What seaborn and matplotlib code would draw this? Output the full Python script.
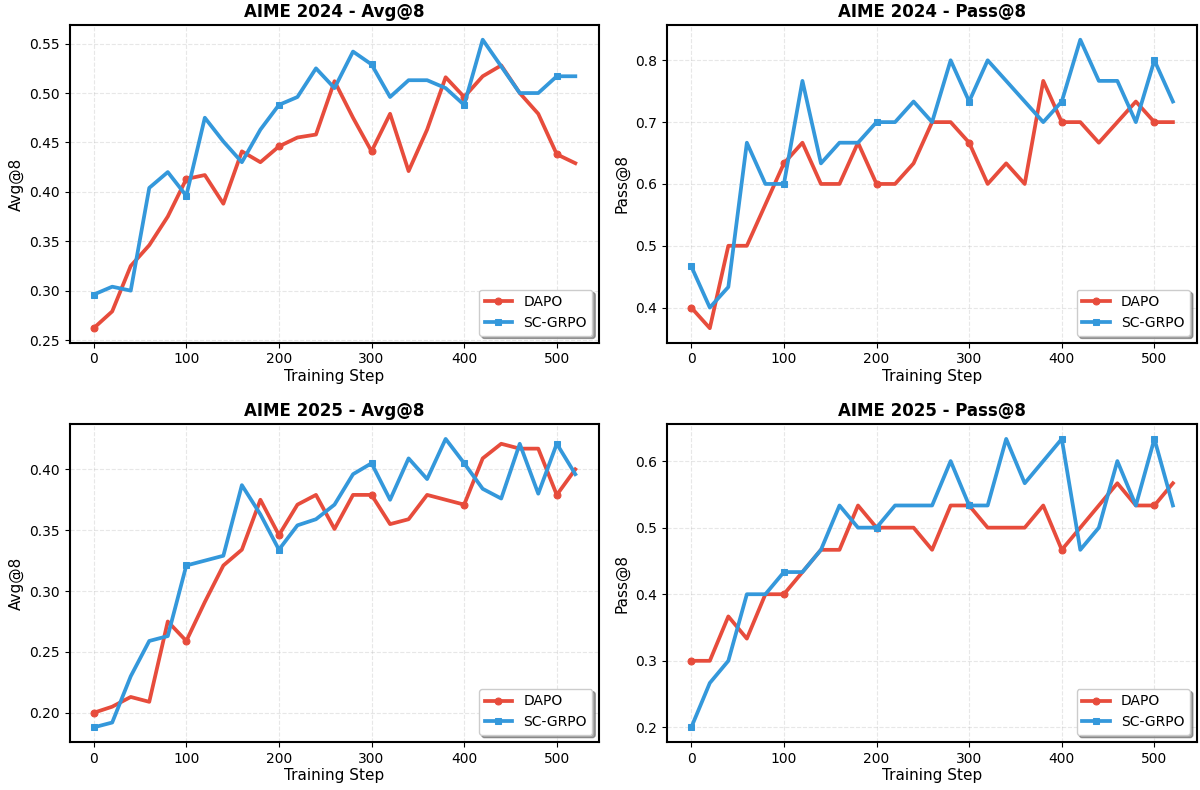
import numpy as np
import matplotlib
matplotlib.use('Agg')
import matplotlib.pyplot as plt
import seaborn as sns

steps = list(range(0, 521, 20))

# AIME 2024 Avg@8
dapo_24_avg = [0.262, 0.279, 0.325, 0.346, 0.375, 0.413, 0.417, 0.388, 0.441, 0.430,
               0.446, 0.455, 0.458, 0.512, 0.475, 0.441, 0.479, 0.421, 0.463, 0.516,
               0.496, 0.517, 0.528, 0.500, 0.479, 0.438, 0.429]
scgrpo_24_avg = [0.296, 0.304, 0.300, 0.404, 0.420, 0.396, 0.475, 0.451, 0.430, 0.463,
                 0.488, 0.496, 0.525, 0.505, 0.542, 0.529, 0.496, 0.513, 0.513, 0.505,
                 0.488, 0.554, 0.527, 0.500, 0.500, 0.517, 0.517]

# AIME 2024 Pass@8
dapo_24_pass = [0.4, 0.3667, 0.5, 0.5, 0.5667, 0.6333, 0.6667, 0.6, 0.6, 0.6667,
                0.6, 0.6, 0.6333, 0.7, 0.7, 0.6667, 0.6, 0.6333, 0.6, 0.7667,
                0.7, 0.7, 0.6667, 0.7, 0.7333, 0.7, 0.7]
scgrpo_24_pass = [0.4667, 0.4, 0.4333, 0.6667, 0.6, 0.6, 0.7667, 0.6333, 0.6667, 0.6667,
                  0.7, 0.7, 0.7333, 0.7, 0.8, 0.7333, 0.8, 0.7667, 0.7333, 0.7,
                  0.7333, 0.8333, 0.7667, 0.7667, 0.7, 0.8, 0.7333]

# AIME 2025 Avg@8
dapo_25_avg = [0.200, 0.205, 0.213, 0.209, 0.275, 0.259, 0.291, 0.321, 0.334, 0.375,
               0.346, 0.371, 0.379, 0.351, 0.379, 0.379, 0.355, 0.359, 0.379, 0.375,
               0.371, 0.409, 0.421, 0.417, 0.417, 0.379, 0.400]
scgrpo_25_avg = [0.188, 0.192, 0.230, 0.259, 0.263, 0.321, 0.325, 0.329, 0.387, 0.363,
                 0.334, 0.354, 0.359, 0.371, 0.396, 0.405, 0.375, 0.409, 0.392, 0.425,
                 0.405, 0.384, 0.376, 0.421, 0.380, 0.421, 0.396]

# AIME 2025 Pass@8
dapo_25_pass = [0.3, 0.3, 0.3667, 0.3333, 0.4, 0.4, 0.4333, 0.4667, 0.4667, 0.5333,
                0.5, 0.5, 0.5, 0.4667, 0.5333, 0.5333, 0.5, 0.5, 0.5, 0.5333,
                0.4667, 0.5, 0.5333, 0.5667, 0.5333, 0.5333, 0.5667]
scgrpo_25_pass = [0.2, 0.2667, 0.3, 0.4, 0.4, 0.4333, 0.4333, 0.4667, 0.5333, 0.5,
                  0.5, 0.5333, 0.5333, 0.5333, 0.6, 0.5333, 0.5333, 0.6333, 0.5667, 0.6,
                  0.6333, 0.4667, 0.5, 0.6, 0.5333, 0.6333, 0.5333]

panels = [
    ('AIME 2024 - Avg@8', 'Avg@8', dapo_24_avg, scgrpo_24_avg),
    ('AIME 2024 - Pass@8', 'Pass@8', dapo_24_pass, scgrpo_24_pass),
    ('AIME 2025 - Avg@8', 'Avg@8', dapo_25_avg, scgrpo_25_avg),
    ('AIME 2025 - Pass@8', 'Pass@8', dapo_25_pass, scgrpo_25_pass),
]

red = '#e74c3c'
blue = '#3498db'

plt.rcParams['font.family'] = ['DejaVu Sans']
fig, axes = plt.subplots(2, 2, figsize=(12, 7.9), dpi=100)

for ax, (title, ylab, dapo, scgrpo) in zip(axes.flat, panels):
    sns.lineplot(x=steps, y=dapo, ax=ax, color=red, linewidth=2.7, marker='o',
                 markersize=5, markevery=5, markeredgecolor=red, label='DAPO')
    sns.lineplot(x=steps, y=scgrpo, ax=ax, color=blue, linewidth=2.7, marker='s',
                 markersize=5, markevery=5, markeredgecolor=blue, label='SC-GRPO')
    ax.set_title(title, fontsize=12, fontweight='bold')
    ax.set_xlabel('Training Step', fontsize=11, labelpad=2)
    ax.set_ylabel(ylab, fontsize=11)
    ax.tick_params(labelsize=10)
    ax.grid(True, linestyle='--', alpha=0.3)
    for s in ax.spines.values():
        s.set_linewidth(1.5)
    ax.legend(loc='lower right', fontsize=10, shadow=True, fancybox=True)

fig.subplots_adjust(left=0.058, right=0.9975, top=0.968, bottom=0.061,
                    wspace=0.128, hspace=0.258)
plt.savefig('out.png', dpi=100)
